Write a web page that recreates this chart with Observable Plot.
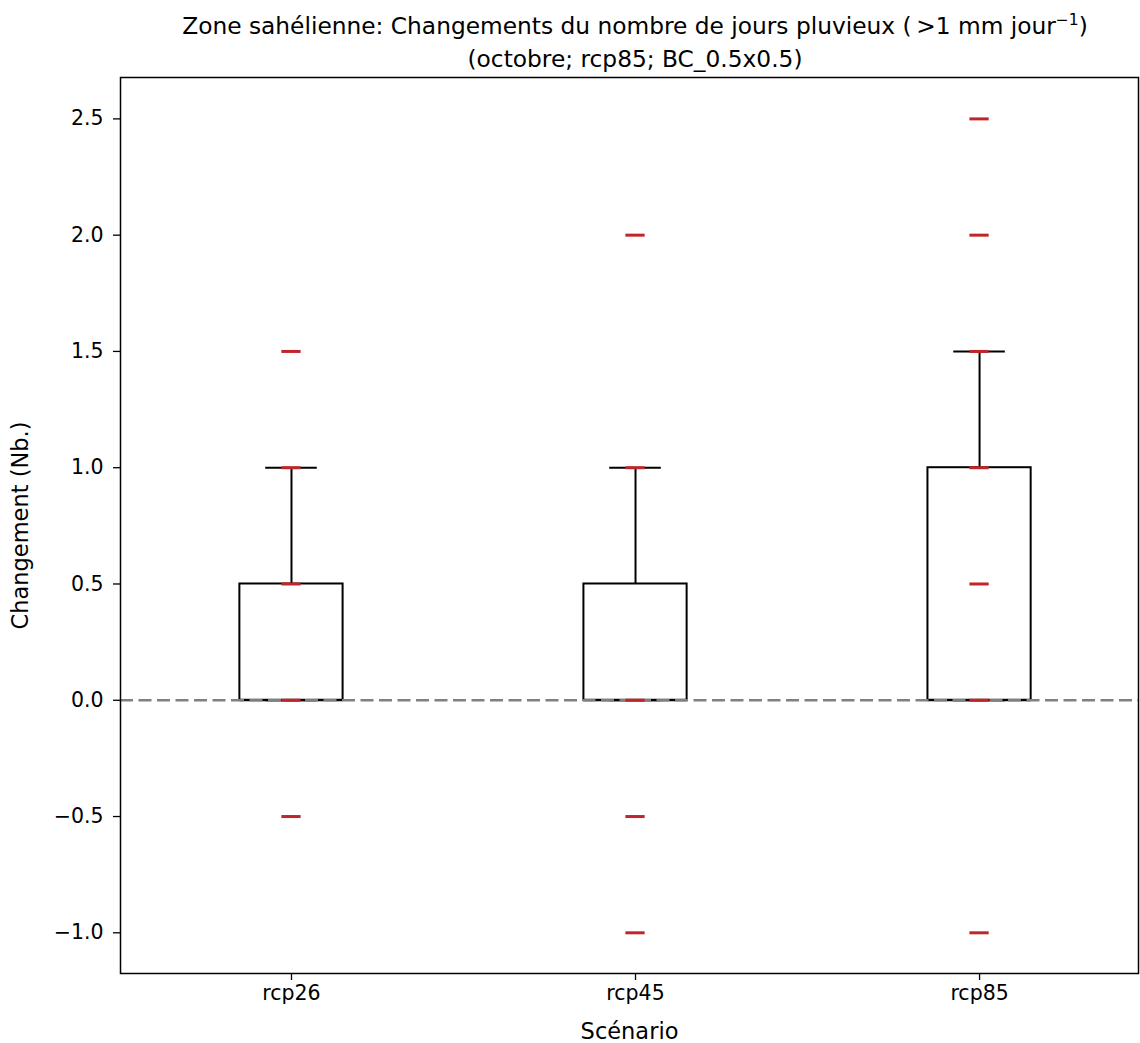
<!DOCTYPE html>
<html>
<head>
<meta charset="utf-8">
<script src="https://cdn.jsdelivr.net/npm/d3@7"></script>
<script src="https://cdn.jsdelivr.net/npm/@observablehq/plot@0.6"></script>
<style>
  html, body { margin: 0; padding: 0; background: #fff; overflow: hidden; }
  body { width: 1140px; height: 1043px; font-family: "DejaVu Sans", sans-serif; }
  #title { width: 1270px; height: 70px; box-sizing: border-box; padding-top: 9px; text-align: center;
           font-size: 23.3px; line-height: 33px; color: #000; }
  #title sup { font-size: 15.5px; line-height: 0; vertical-align: 9px; }
  #chart svg { display: block; }
</style>
</head>
<body>
<div id="title">Zone sahélienne: Changements du nombre de jours pluvieux (&#8201;&gt;1 mm jour<sup>−1</sup>)<br>(octobre; rcp85; BC_0.5x0.5)</div>
<div id="chart"></div>
<script>
// ---- data ----
const scenarios = ["rcp26", "rcp45", "rcp85"];
const q1 = [0, 0, 0];
const medians = [0, 0, 0];
const q3 = [0.5, 0.5, 1.0];
const whiskerLow = [0, 0, 0];
const whiskerHigh = [1.0, 1.0, 1.5];
const rcp26Values = [-0.5, 0, 0.5, 1.0, 1.5];
const rcp45Values = [-1.0, -0.5, 0, 1.0, 2.0];
const rcp85Values = [-1.0, 0, 0.5, 1.0, 1.5, 2.0, 2.5];
const yTicks = [-1.0, -0.5, 0.0, 0.5, 1.0, 1.5, 2.0, 2.5];

// ---- tables built from the arrays ----
const boxes = scenarios.map((s, i) => ({
  name: s, pos: i + 1, q1: q1[i], median: medians[i], q3: q3[i],
  lo: whiskerLow[i], hi: whiskerHigh[i]
}));
const valueSets = [rcp26Values, rcp45Values, rcp85Values];
const points = valueSets.flatMap((vals, i) => vals.map(v => ({ name: scenarios[i], pos: i + 1, value: v })));

const boxHalf = 0.15, capHalf = 0.075, dotHalf = 0.028;

const plot = Plot.plot({
  width: 1140,
  height: 973,
  marginTop: 7,
  marginBottom: 70,
  marginLeft: 120,
  marginRight: 2,
  style: { fontFamily: "DejaVu Sans, sans-serif", fontSize: "20.5px", color: "#000", background: "#fff" },
  x: { domain: [0.503, 3.462] },
  y: { domain: [-1.175, 2.678] },
  marks: [
    Plot.axisX({ ticks: [1, 2, 3], tickFormat: d => scenarios[d - 1], tickSize: 7, tickPadding: 5, strokeWidth: 1.3, label: null }),
    Plot.axisY({ ticks: yTicks, tickFormat: d3.format(".1f"), tickSize: 7, tickPadding: 10, strokeWidth: 1.3, label: null }),
    Plot.axisX({ ticks: [], label: "Scénario", labelAnchor: "center", labelArrow: "none", labelOffset: 65, fontSize: 22.5 }),
    Plot.axisY({ ticks: [], label: "Changement (Nb.)", labelAnchor: "center", labelArrow: "none", labelOffset: 108, fontSize: 22.5 }),
    // whiskers
    Plot.ruleX(boxes, { x: "pos", y1: "q3", y2: "hi", stroke: "#000", strokeWidth: 2 }),
    Plot.ruleX(boxes, { x: "pos", y1: "lo", y2: "q1", stroke: "#000", strokeWidth: 2 }),
    // caps
    Plot.ruleY(boxes, { y: "hi", x1: d => d.pos - capHalf, x2: d => d.pos + capHalf, stroke: "#000", strokeWidth: 2 }),
    Plot.ruleY(boxes, { y: "lo", x1: d => d.pos - capHalf, x2: d => d.pos + capHalf, stroke: "#000", strokeWidth: 2 }),
    // boxes
    Plot.rect(boxes, { x1: d => d.pos - boxHalf, x2: d => d.pos + boxHalf, y1: "q1", y2: "q3", fill: "#fff", stroke: "#000", strokeWidth: 2 }),
    // medians
    Plot.ruleY(boxes, { y: "median", x1: d => d.pos - boxHalf, x2: d => d.pos + boxHalf, stroke: "#000", strokeWidth: 2 }),
    // zero reference line
    Plot.ruleY([0], { stroke: "#808080", strokeWidth: 2.5, strokeDasharray: "13,5.5" }),
    // individual values
    Plot.ruleY(points, { y: "value", x1: d => d.pos - dotHalf, x2: d => d.pos + dotHalf, stroke: "#c22529", strokeWidth: 3 }),
    // frame
    Plot.frame({ stroke: "#000", strokeWidth: 1.5 })
  ]
});
document.getElementById("chart").appendChild(plot);
</script>
</body>
</html>
